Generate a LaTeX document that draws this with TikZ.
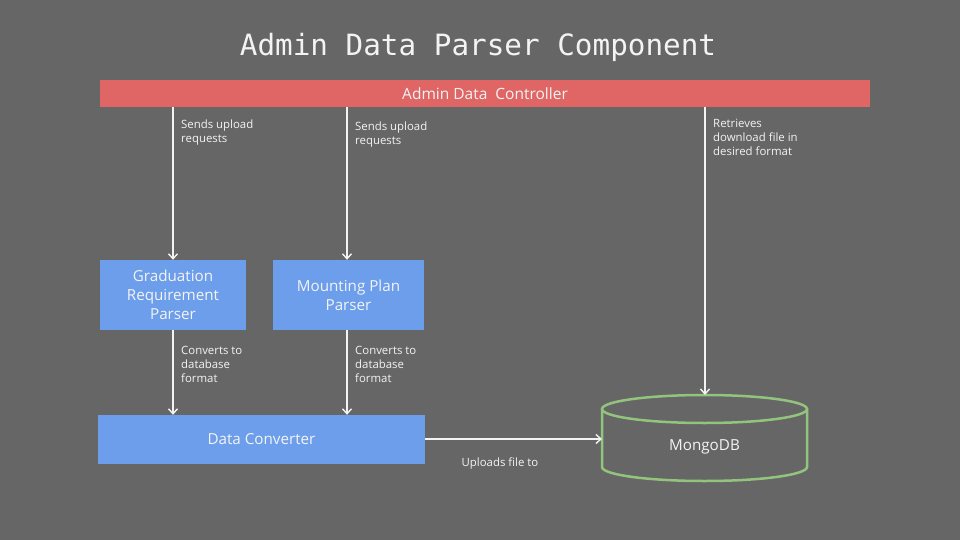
\documentclass[tikz,border=0pt]{standalone}
\usepackage{fontspec}
\setmainfont{Open Sans}
\setmonofont{DejaVu Sans Mono}
\usetikzlibrary{arrows.meta}
\definecolor{bg}{HTML}{666666}
\definecolor{ctrl}{HTML}{E06666}
\definecolor{blu}{HTML}{6D9EEB}
\definecolor{grn}{HTML}{93C47D}
\definecolor{txt}{HTML}{F3F3F3}
\begin{document}
\begin{tikzpicture}[x=1pt,y=-1pt,
  box/.style={fill=blu, draw=none, text=txt, font=\fontsize{15.2}{19}\selectfont, align=center, inner sep=0pt},
  lbl/.style={text=txt, font=\fontsize{11.4}{14}\selectfont, align=left, anchor=north west, inner sep=0pt},
  conn/.style={draw=txt, line width=1.6pt, -{Straight Barb[length=5pt,width=9pt,line width=1.4pt]}}
]
\fill[bg] (0,0) rectangle (960,540);
\useasboundingbox (0,0) rectangle (960,540);
\node[text=txt, font=\ttfamily\fontsize{29.3}{32}\selectfont] (title) at (478,47) {Admin Data Parser Component};
\node[fill=ctrl, text=txt, minimum width=770pt, minimum height=27pt, inner sep=0pt, font=\fontsize{15.5}{18}\selectfont] (ctrl) at (485,93.5) {Admin Data\ \ Controller};
\node[box, minimum width=146pt, minimum height=70pt] (grad) at (173,295) {Graduation\\Requirement\\Parser};
\node[box, minimum width=151pt, minimum height=70pt] (mount) at (348.5,295) {Mounting Plan\\Parser};
\node[box, minimum width=327pt, minimum height=49pt] (conv) at (261.5,439.5) {Data Converter};
\node[text=txt, inner sep=0pt, font=\fontsize{15.2}{18}\selectfont] (db) at (704.5,447) {MongoDB};
% cylinder
\draw[grn, line width=2.5pt] (602,409) -- (602,467) arc[start angle=180, end angle=360, x radius=102.5pt, y radius=14pt] -- (807,409);
\draw[grn, line width=2.5pt] (704.5,409) ellipse[x radius=102.5pt, y radius=14pt];
\coordinate (dbtop) at (705,395);
\coordinate (dbleft) at (602,439);
% connectors
\draw[conn] (ctrl.south -| grad.north) -- (grad.north);
\draw[conn] (ctrl.south -| mount.north) ++(-1.5,0) -- ([xshift=-1.5pt]mount.north);
\draw[conn] (ctrl.south -| dbtop) -- (dbtop);
\draw[conn] (grad.south) -- (grad.south |- conv.north);
\draw[conn] ([xshift=-1.5pt]mount.south) -- ([xshift=-1.5pt]mount.south |- conv.north);
\draw[conn] (conv.east |- dbleft) -- (dbleft);
% labels
\node[lbl] (l1) at (181,120) {Sends upload\\requests};
\node[lbl] (l2) at (355,122) {Sends upload\\requests};
\node[lbl] (l3) at (713,119) {Retrieves\\download file in\\desired format};
\node[lbl] (l4) at (181,346) {Converts to\\database\\format};
\node[lbl] (l5) at (355,346) {Converts to\\database\\format};
\node[lbl, anchor=north] (l6) at (500,458) {Uploads file to};
\end{tikzpicture}
\end{document}
